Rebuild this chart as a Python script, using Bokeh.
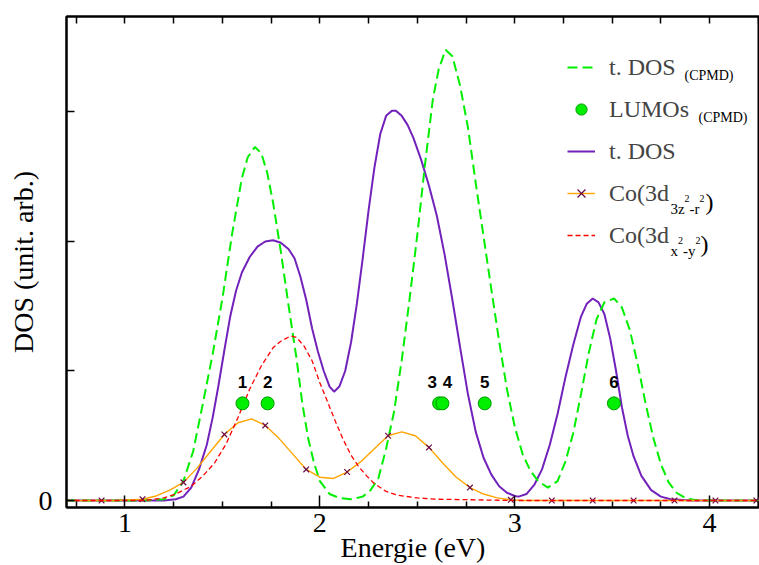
import numpy as np
from bokeh.plotting import figure
from bokeh.models import (Range1d, LinearAxis, FixedTicker, Legend, LegendItem, Label,
                          ColumnDataSource)
from bokeh.core.properties import value
from bokeh.embed import file_html
from bokeh.resources import INLINE

# ---------------- data ----------------
# total DOS from CPMD (green dashed)
tdos_cpmd_x = [0.70, 1.10, 1.20, 1.25, 1.30, 1.35, 1.40, 1.45, 1.50, 1.55, 1.60, 1.63, 1.667,
               1.70, 1.73, 1.76, 1.80, 1.84, 1.88, 1.91, 1.94, 1.97, 2.00, 2.05, 2.10, 2.16,
               2.22, 2.26, 2.30, 2.34, 2.38, 2.42, 2.46, 2.50, 2.54, 2.58, 2.61, 2.645, 2.68,
               2.72, 2.76, 2.80, 2.84, 2.88, 2.92, 2.96, 3.00, 3.04, 3.08, 3.12, 3.17, 3.22,
               3.26, 3.30, 3.34, 3.38, 3.42, 3.46, 3.51, 3.55, 3.59, 3.63, 3.67, 3.71, 3.75,
               3.79, 3.83, 3.88, 3.95, 4.26]
tdos_cpmd_y = [0.0, 0.0, 0.01, 0.04, 0.15, 0.38, 0.75, 1.13, 1.56, 2.06, 2.49, 2.65, 2.73,
               2.68, 2.53, 2.30, 1.92, 1.50, 1.10, 0.75, 0.48, 0.29, 0.15, 0.05, 0.02, 0.01,
               0.03, 0.08, 0.17, 0.40, 0.68, 1.08, 1.55, 2.05, 2.60, 3.10, 3.33, 3.48, 3.43,
               3.20, 2.88, 2.45, 2.04, 1.63, 1.23, 0.86, 0.57, 0.36, 0.23, 0.15, 0.10, 0.15,
               0.30, 0.52, 0.82, 1.14, 1.40, 1.53, 1.56, 1.49, 1.32, 1.06, 0.76, 0.49, 0.28,
               0.14, 0.06, 0.015, 0.0, 0.0]

# total DOS (purple)
tdos_x = [0.70, 1.20, 1.26, 1.30, 1.34, 1.38, 1.42, 1.45, 1.48, 1.51, 1.54, 1.57, 1.60, 1.64,
          1.68, 1.72, 1.76, 1.80, 1.84, 1.87, 1.90, 1.93, 1.96, 1.99, 2.02, 2.05, 2.073, 2.10,
          2.13, 2.16, 2.19, 2.22, 2.25, 2.28, 2.31, 2.34, 2.37, 2.39, 2.42, 2.45, 2.48, 2.52,
          2.56, 2.60, 2.64, 2.68, 2.72, 2.76, 2.80, 2.84, 2.88, 2.92, 2.96, 3.00, 3.02, 3.06,
          3.10, 3.14, 3.18, 3.22, 3.26, 3.30, 3.34, 3.37, 3.40, 3.43, 3.46, 3.49, 3.52, 3.55,
          3.58, 3.61, 3.65, 3.70, 3.75, 3.80, 3.90, 4.26]
tdos_y = [0.0, 0.0, 0.01, 0.03, 0.10, 0.24, 0.43, 0.64, 0.89, 1.16, 1.42, 1.62, 1.76, 1.88,
          1.96, 2.00, 2.01, 1.99, 1.94, 1.87, 1.73, 1.55, 1.33, 1.15, 1.00, 0.88, 0.84, 0.88,
          1.00, 1.22, 1.52, 1.87, 2.24, 2.57, 2.83, 2.97, 3.01, 3.01, 2.97, 2.90, 2.80, 2.63,
          2.43, 2.20, 1.90, 1.55, 1.18, 0.82, 0.53, 0.33, 0.20, 0.11, 0.06, 0.035, 0.03, 0.05,
          0.12, 0.24, 0.43, 0.67, 0.95, 1.20, 1.42, 1.52, 1.56, 1.53, 1.44, 1.25, 1.00, 0.72,
          0.50, 0.34, 0.19, 0.08, 0.03, 0.01, 0.0, 0.0]

# Co(3d x2-y2) projected DOS (red dashed)
co_x2y2_x = [0.70, 1.10, 1.20, 1.26, 1.30, 1.34, 1.40, 1.46, 1.52, 1.58, 1.64, 1.70, 1.76,
             1.80, 1.85, 1.88, 1.92, 1.96, 2.00, 2.04, 2.08, 2.12, 2.16, 2.20, 2.24, 2.28,
             2.34, 2.40, 2.50, 2.60, 2.80, 3.00, 4.26]
co_x2y2_y = [0.0, 0.0, 0.02, 0.05, 0.08, 0.11, 0.19, 0.29, 0.44, 0.64, 0.86, 1.04, 1.18,
             1.23, 1.27, 1.26, 1.19, 1.08, 0.91, 0.76, 0.61, 0.47, 0.35, 0.26, 0.19, 0.13,
             0.07, 0.04, 0.02, 0.01, 0.005, 0.0, 0.0]

# Co(3d 3z2-r2) projected DOS (orange, markers on every third point)
co_z2_x = [0.74, 0.81, 0.88, 0.95, 1.02, 1.09, 1.16, 1.23, 1.30, 1.37, 1.44, 1.51, 1.58,
           1.65, 1.72, 1.79, 1.86, 1.93, 2.00, 2.07, 2.14, 2.21, 2.28, 2.35, 2.42, 2.49,
           2.56, 2.63, 2.70, 2.77, 2.84, 2.91, 2.98, 3.05, 3.12, 3.19, 3.26, 3.33, 3.40,
           3.47, 3.54, 3.61, 3.68, 3.75, 3.82, 3.89, 3.96, 4.03, 4.10, 4.17, 4.24]
co_z2_y = [0.0, 0.0, 0.0, 0.0, 0.005, 0.01, 0.035, 0.08, 0.14, 0.25, 0.38, 0.51, 0.60,
           0.63, 0.58, 0.48, 0.36, 0.24, 0.18, 0.17, 0.22, 0.30, 0.40, 0.50, 0.53, 0.50,
           0.41, 0.29, 0.18, 0.10, 0.05, 0.02, 0.005, 0.0, 0.0, 0.0, 0.0, 0.0, 0.0,
           0.0, 0.0, 0.0, 0.0, 0.0, 0.0, 0.0, 0.0, 0.0, 0.0, 0.0, 0.0]

# LUMOs (CPMD)
lumo_x = [1.603, 1.732, 2.612, 2.629, 2.846, 3.509]
lumo_y = [0.75, 0.75, 0.75, 0.75, 0.75, 0.75]
lumo_names = ["1", "2", "3", "4", "5", "6"]

x_major = [1, 2, 3, 4]
x_minor = [0.75, 1.25, 1.5, 1.75, 2.25, 2.5, 2.75, 3.25, 3.5, 3.75, 4.25]
y_labeled = [0]
y_unlabeled = [1, 2, 3]

# ---------------- styles ----------------
SERIF = "Liberation Serif"
GREEN = "#00ee00"
PURPLE = "#7222bb"
ORANGE = "#ffa500"
MAROON = "#670748"
RED = "#ff0000"
lumo_label_dx = [0, 0, -7, 5, 0, 0]

p = figure(width=759, height=565, x_range=Range1d(0.70, 4.256), y_range=Range1d(-0.054, 3.737),
           output_backend="svg", toolbar_location=None,
           min_border_left=66, min_border_right=0, min_border_top=16, min_border_bottom=58)
p.grid.visible = False
p.background_fill_color = "white"
p.border_fill_color = "white"
p.outline_line_color = "black"
p.outline_line_width = 2

xa = p.xaxis[0]
xa.ticker = FixedTicker(ticks=x_major, minor_ticks=x_minor)
xa.major_tick_in = 12
xa.major_tick_out = 0
xa.minor_tick_in = 6
xa.minor_tick_out = 0
xa.axis_line_width = 2
xa.major_tick_line_width = 1.5
xa.minor_tick_line_width = 1.5
xa.major_label_text_font = SERIF
xa.major_label_text_font_size = "28px"
xa.major_label_text_color = "black"
xa.major_label_standoff = 6
xa.axis_label = "Energie (eV)"
xa.axis_label_text_font = SERIF
xa.axis_label_text_font_size = "28px"
xa.axis_label_text_font_style = "normal"
xa.axis_label_text_color = "black"
xa.axis_label_standoff = -3

ya = p.yaxis[0]
ya.ticker = FixedTicker(ticks=y_labeled, minor_ticks=y_unlabeled)
ya.major_tick_in = 8
ya.major_tick_out = 0
ya.minor_tick_in = 8
ya.minor_tick_out = 0
ya.axis_line_width = 2
ya.major_tick_line_width = 1.5
ya.minor_tick_line_width = 1.5
ya.major_label_text_font = SERIF
ya.major_label_text_font_size = "28px"
ya.major_label_text_color = "black"
ya.major_label_standoff = 14
ya.axis_label = "DOS (unit. arb.)"
ya.axis_label_text_font = SERIF
ya.axis_label_text_font_size = "28px"
ya.axis_label_text_font_style = "normal"
ya.axis_label_text_color = "black"
ya.axis_label_standoff = -3

top = LinearAxis(ticker=FixedTicker(ticks=[], minor_ticks=sorted(x_major + x_minor)),
                 major_tick_in=0, major_tick_out=0, minor_tick_in=7, minor_tick_out=0,
                 major_label_standoff=0, axis_line_width=2, minor_tick_line_width=1.5)
p.add_layout(top, "above")

# ---------------- curves ----------------
r_purple = p.line(tdos_x, tdos_y, line_color=PURPLE, line_width=2)
r_green = p.line(tdos_cpmd_x, tdos_cpmd_y, line_color=GREEN, line_width=2, line_dash="10 5")
r_orange = p.line(co_z2_x, co_z2_y, line_color=ORANGE, line_width=1.4)
r_orange_m = p.scatter(co_z2_x[2::3], co_z2_y[2::3], marker="x", size=8,
                       line_color=MAROON, line_width=1.2)
r_red = p.line(co_x2y2_x, co_x2y2_y, line_color=RED, line_width=1.3, line_dash="5 3")

src = ColumnDataSource(dict(x=lumo_x, y=lumo_y, t=lumo_names, dx=lumo_label_dx))
r_lumo = p.scatter("x", "y", source=src, marker="circle", size=13,
                   fill_color=GREEN, line_color="#009a00", line_width=1)
p.text("x", "y", text="t", source=src, x_offset="dx", y_offset=-21,
       text_font=value("Liberation Sans"), text_font_style="bold", text_font_size="17px",
       text_align="center", text_baseline="middle", text_color="black")

# ---------------- legend ----------------
items = [
    LegendItem(label="t. DOS", renderers=[r_green]),
    LegendItem(label="LUMOs", renderers=[r_lumo]),
    LegendItem(label="t. DOS", renderers=[r_purple]),
    LegendItem(label="Co(3d", renderers=[r_orange, r_orange_m]),
    LegendItem(label="Co(3d", renderers=[r_red]),
]
leg = Legend(items=items, location=(501, 257), border_line_color=None,
             background_fill_alpha=0, padding=0, margin=0, spacing=12,
             glyph_width=28, glyph_height=30, label_height=30, label_standoff=14,
             label_text_font=SERIF, label_text_font_size="24px")
p.add_layout(leg)

FX, FB = 66, 507  # frame left / bottom on the page


def piece(text, px, py, size):
    p.add_layout(Label(x=px - FX, y=FB - py, x_units="screen", y_units="screen", text=text,
                       text_font=SERIF, text_font_size=size, text_align="left",
                       text_baseline="alphabetic", text_color="black"))


piece("(CPMD)", 684, 75, "14px")
piece("(CPMD)", 698, 117, "14px")
# Co(3d 3z^2 - r^2)
piece("3z", 670, 208, "15px")
piece("2", 684, 198, "10px")
piece("-r", 689, 208, "15px")
piece("2", 699, 198, "10px")
piece(")", 705, 201, "24px")
# Co(3d x^2 - y^2)
piece("x", 670, 250, "15px")
piece("2", 677.5, 240, "10px")
piece("-y", 682.5, 250, "15px")
piece("2", 695, 240, "10px")
piece(")", 700, 243, "24px")

open("out.html", "w").write(file_html(p, INLINE))
